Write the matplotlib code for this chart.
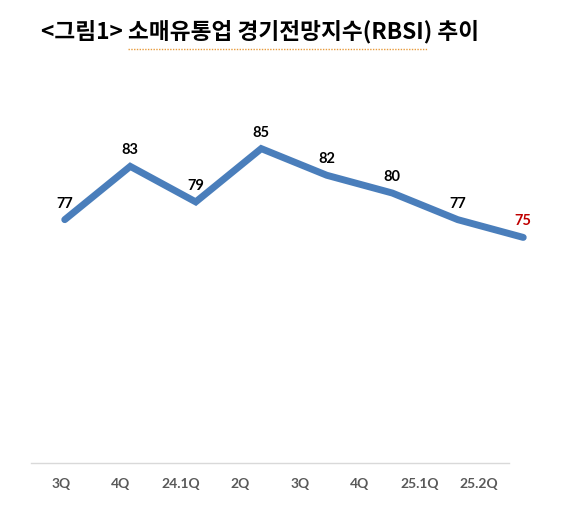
import matplotlib.pyplot as plt
from matplotlib.lines import Line2D

# Data
quarters = ["3Q", "4Q", "24.1Q", "2Q", "3Q", "4Q", "25.1Q", "25.2Q"]
rbsi = [77, 83, 79, 85, 82, 80, 77, 75]
title = "<그림1> 소매유통업 경기전망지수(RBSI) 추이"

W, H = 570, 519
fig = plt.figure(figsize=(W / 100, H / 100), dpi=100)
fig.patch.set_facecolor("white")

def px_box(x0, y0, x1, y1):
    # pixel box (top-left origin) -> figure fraction rect
    return [x0 / W, 1 - y1 / H, (x1 - x0) / W, (y1 - y0) / H]

# Category axis (baseline + labels)
ax_cat = fig.add_axes(px_box(31, 90, 509, 463))
ax_cat.set_xlim(-0.5, len(quarters) - 0.5)
ax_cat.set_ylim(0, 1)
ax_cat.set_xticks(range(len(quarters)))
ax_cat.set_xticklabels(quarters, fontfamily="Lato", fontweight="bold",
                       fontsize=10, color="#595959")
ax_cat.tick_params(axis="x", length=0, pad=11)
ax_cat.set_yticks([])
for side in ["top", "left", "right"]:
    ax_cat.spines[side].set_visible(False)
ax_cat.spines["bottom"].set_color("#D9D9D9")
ax_cat.spines["bottom"].set_linewidth(1)
ax_cat.patch.set_alpha(0)

# Line axis
ax = fig.add_axes(px_box(32, 90, 556, 463))
ax.set_xlim(-0.5, len(rbsi) - 0.5)
ax.set_ylim(49.6, 91.6)
ax.axis("off")
ax.plot(range(len(rbsi)), rbsi, color="#4A7EBB", lw=5,
        solid_capstyle="round", solid_joinstyle="miter", clip_on=False)

for i, v in enumerate(rbsi):
    col = "#C00000" if i == len(rbsi) - 1 else "black"
    ax.annotate(str(v), (i, v), xytext=(0, 6.5), textcoords="offset points",
                ha="center", va="bottom", fontfamily="Lato", fontweight="bold",
                fontsize=10.5, color=col)

# Title
fig.text(260 / W, 1 - 32 / H, title, ha="center", va="center",
         fontfamily=["Noto Sans CJK KR", "DejaVu Sans"], fontsize=16.3,
         fontweight="bold", color="black")
# spell-check style dotted underline
fig.add_artist(Line2D([128 / W, 427 / W], [1 - 49 / H, 1 - 49 / H],
                      transform=fig.transFigure, color="#E89B3C",
                      lw=1, ls=(0, (1, 1))))

fig.savefig("out.png", dpi=100)
